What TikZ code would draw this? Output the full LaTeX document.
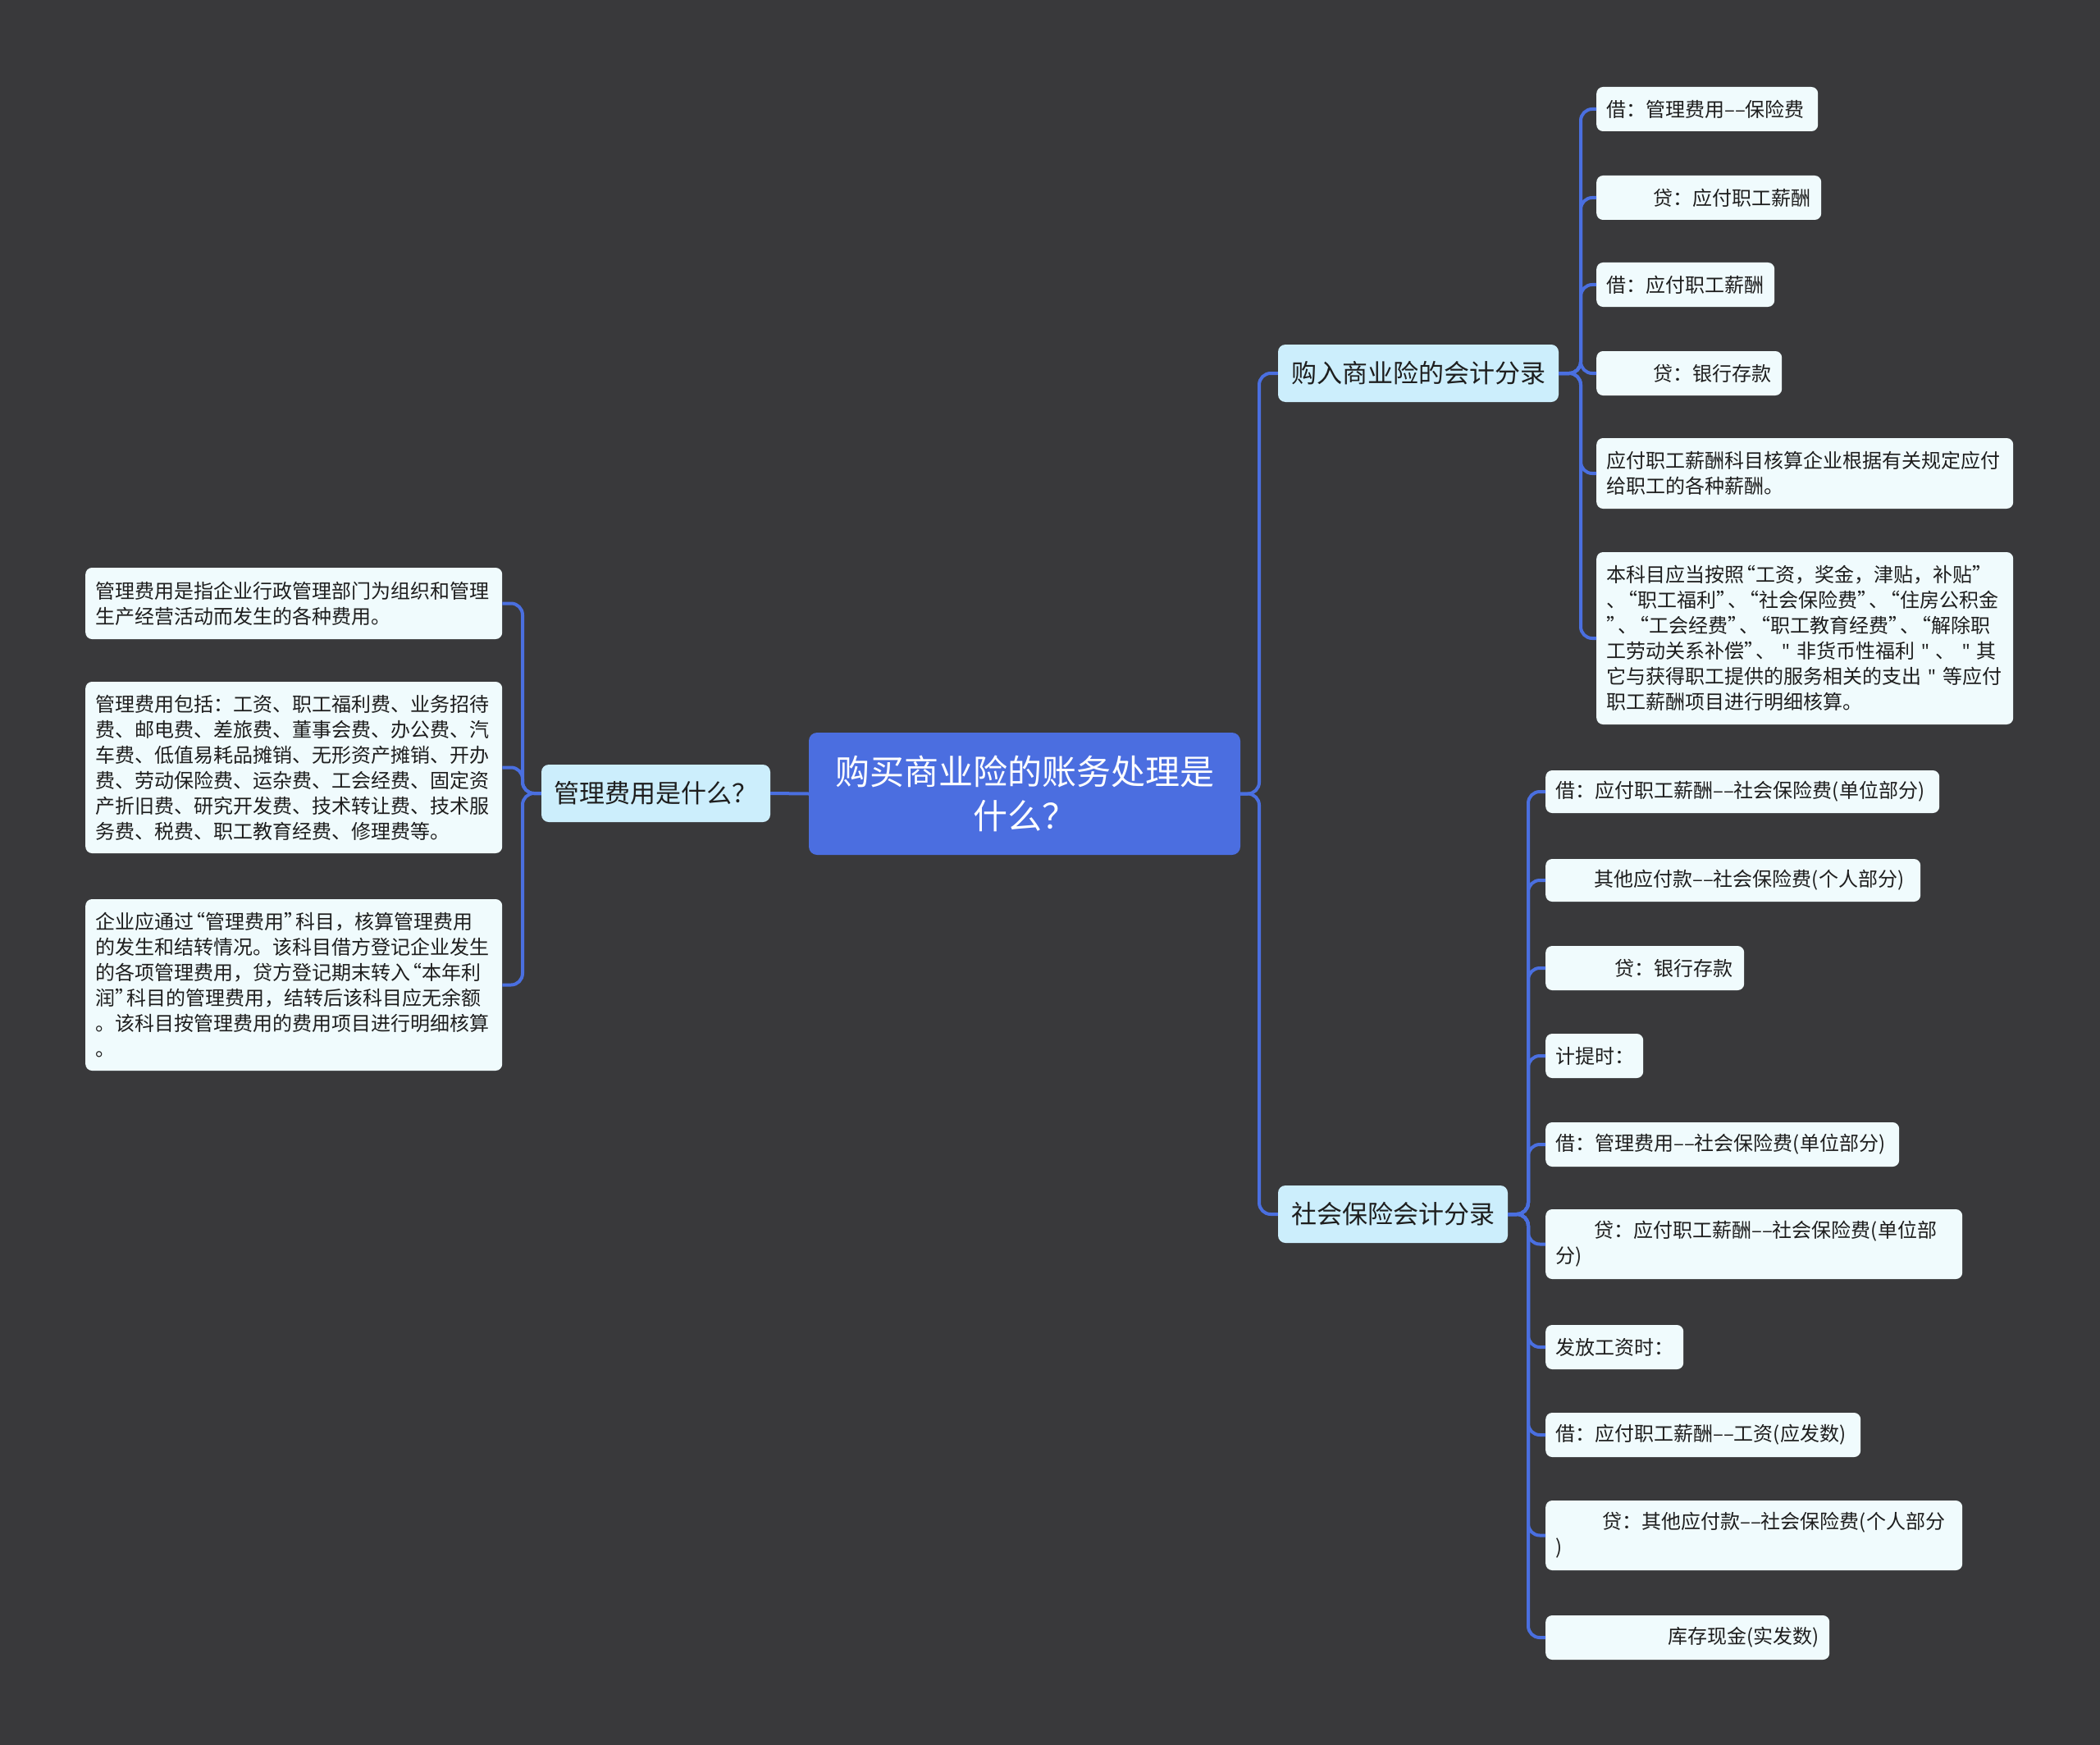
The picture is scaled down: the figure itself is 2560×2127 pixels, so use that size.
\documentclass[tikz,border=0pt]{standalone}
\usepackage{fontspec}
\setmainfont{Noto Sans CJK SC}
\newfontfamily\latf{Noto Sans}
\definecolor{bgc}{HTML}{39393B}
\definecolor{linec}{HTML}{4A6FE0}
\definecolor{rootf}{HTML}{4B6EE0}
\definecolor{branchf}{HTML}{CCEEFC}
\definecolor{leaff}{HTML}{F0FBFD}
\definecolor{textc}{HTML}{1E1E1E}
\newcommand\myoq{\makebox[14pt][r]{“}}
\newcommand\mycq{\makebox[14pt][l]{”}}
\newcommand\mysq{{\latf~"~}}
\tikzset{
  conn/.style={draw=linec, line width=4pt, rounded corners=14pt},
  leafbox/.style={fill=leaff, rounded corners=8pt, text=textc, align=left,
    font=\fontsize{24}{31}\selectfont, inner xsep=12pt, inner ysep=4pt},
  branchbox/.style={fill=branchf, rounded corners=9pt, text=textc, align=center,
    font=\fontsize{31}{38}\selectfont, inner xsep=4pt, inner ysep=4pt},
  rootbox/.style={fill=rootf, rounded corners=10pt, text=white, align=center,
    font=\fontsize{42}{54}\selectfont, inner sep=4pt}
}
\begin{document}
\begin{tikzpicture}[x=1pt,y=-1pt]
\fill[bgc] (0,0) rectangle (2560,2127);
\useasboundingbox (0,0) rectangle (2560,2127);

% spine coordinates
\coordinate (sR) at (1535,967);
\coordinate (sL) at (637,967);
\coordinate (s1) at (1927,455);
\coordinate (s2) at (1863,1480);

% root and branches
\node[rootbox, minimum width=526pt, minimum height=149pt] (root) at (1249,967.5) {购买商业险的账务处理是\\什么？};
\node[branchbox, minimum width=279pt, minimum height=70pt] (lb) at (799.5,967) {管理费用是什么？};
\node[branchbox, minimum width=342pt, minimum height=70pt] (b1) at (1729,455) {购入商业险的会计分录};
\node[branchbox, minimum width=280pt, minimum height=70pt] (b2) at (1698,1480) {社会保险会计分录};

% left leaves
\node[leafbox, anchor=west, text width=484pt, minimum height=87pt] (l1) at (104,735.5) {管理费用是指企业行政管理部门为组织和管理\\生产经营活动而发生的各种费用。};
\node[leafbox, anchor=west, text width=484pt, minimum height=209pt] (l2) at (104,935.5) {管理费用包括：工资、职工福利费、业务招待\\费、邮电费、差旅费、董事会费、办公费、汽\\车费、低值易耗品摊销、无形资产摊销、开办\\费、劳动保险费、运杂费、工会经费、固定资\\产折旧费、研究开发费、技术转让费、技术服\\务费、税费、职工教育经费、修理费等。};
\node[leafbox, anchor=west, text width=484pt, minimum height=209pt] (l3) at (104,1200.5) {企业应通过\myoq 管理费用\mycq 科目，核算管理费用\\的发生和结转情况。该科目借方登记企业发生\\的各项管理费用，贷方登记期末转入\myoq 本年利\\润\mycq 科目的管理费用，结转后该科目应无余额\\。该科目按管理费用的费用项目进行明细核算\\。};

% top right leaves
\node[leafbox, anchor=west, text width=246pt, minimum height=54pt] (c1) at (1946,133) {借：管理费用––保险费};
\node[leafbox, anchor=west, text width=250pt, minimum height=54pt] (c2) at (1946,241) {\hspace*{57pt}贷：应付职工薪酬};
\node[leafbox, anchor=west, text width=193pt, minimum height=54pt] (c3) at (1946,347) {借：应付职工薪酬};
\node[leafbox, anchor=west, text width=202pt, minimum height=54pt] (c4) at (1946,455) {\hspace*{57pt}贷：银行存款};
\node[leafbox, anchor=west, text width=484pt, minimum height=86pt] (c5) at (1946,577) {应付职工薪酬科目核算企业根据有关规定应付\\给职工的各种薪酬。};
\node[leafbox, anchor=west, text width=484pt, minimum height=210pt] (c6) at (1946,778) {本科目应当按照\myoq 工资，奖金，津贴，补贴\mycq\\、\myoq 职工福利\mycq 、\myoq 社会保险费\mycq 、\myoq 住房公积金\\\mycq 、\myoq 工会经费\mycq 、\myoq 职工教育经费\mycq 、\myoq 解除职\\工劳动关系补偿\mycq 、\mysq 非货币性福利\mysq 、\mysq 其\\它与获得职工提供的服务相关的支出\mysq 等应付\\职工薪酬项目进行明细核算。};

% bottom right leaves
\node[leafbox, anchor=west, text width=456pt, minimum height=52pt] (d1) at (1884,965) {借：应付职工薪酬––社会保险费(单位部分)};
\node[leafbox, anchor=west, text width=433pt, minimum height=52pt] (d2) at (1884,1073) {\hspace*{47pt}其他应付款––社会保险费(个人部分)};
\node[leafbox, anchor=west, text width=218pt, minimum height=54pt] (d3) at (1884,1180) {\hspace*{72pt}贷：银行存款};
\node[leafbox, anchor=west, text width=95pt, minimum height=54pt] (d4) at (1884,1287) {计提时：};
\node[leafbox, anchor=west, text width=407pt, minimum height=54pt] (d5) at (1884,1395) {借：管理费用––社会保险费(单位部分)};
\node[leafbox, anchor=west, text width=484pt, minimum height=85pt] (d6) at (1884,1516.5) {\hspace*{47pt}贷：应付职工薪酬––社会保险费(单位部\\分)};
\node[leafbox, anchor=west, text width=144pt, minimum height=54pt] (d7) at (1884,1642) {发放工资时：};
\node[leafbox, anchor=west, text width=360pt, minimum height=54pt] (d8) at (1884,1749) {借：应付职工薪酬––工资(应发数)};
\node[leafbox, anchor=west, text width=484pt, minimum height=85pt] (d9) at (1884,1871.5) {\hspace*{57pt}贷：其他应付款––社会保险费(个人部分\\)};
\node[leafbox, anchor=west, text width=322pt, minimum height=54pt] (d10) at (1884,1996) {\hspace*{137pt}库存现金(实发数)};

% connectors
\draw[conn] (root.west) -- (lb.east);
\foreach \t in {b1,b2} \draw[conn] (root.east) -- (root.east -| sR) |- (\t.west);
\foreach \t in {l1,l2,l3} \draw[conn] (lb.west) -- (lb.west -| sL) |- (\t.east);
\foreach \t in {c1,c2,c3,c4,c5,c6} \draw[conn] (b1.east) -- (b1.east -| s1) |- (\t.west);
\foreach \t in {d1,d2,d3,d4,d5,d6,d7,d8,d9,d10} \draw[conn] (b2.east) -- (b2.east -| s2) |- (\t.west);
\end{tikzpicture}
\end{document}
